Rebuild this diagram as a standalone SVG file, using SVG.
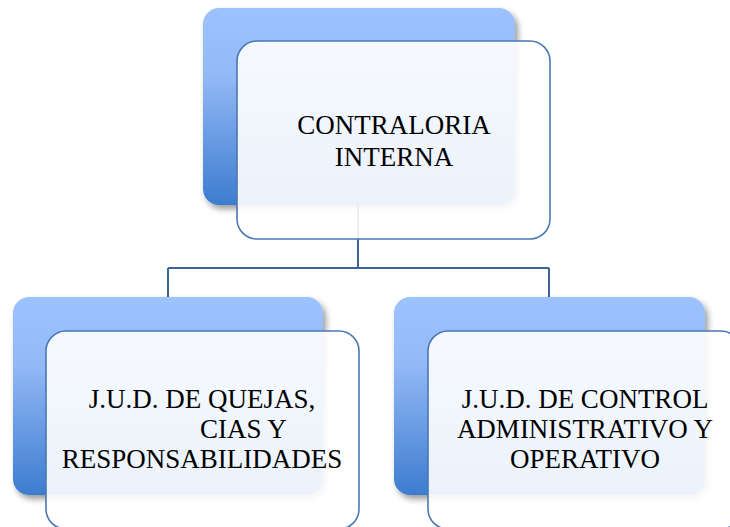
<svg xmlns="http://www.w3.org/2000/svg" width="730" height="527" viewBox="0 0 730 527">
<defs>
<linearGradient id="bg" x1="0" y1="0" x2="0" y2="1">
<stop offset="0" stop-color="#9dc3ff"/>
<stop offset="0.35" stop-color="#92b8f6"/>
<stop offset="1" stop-color="#3d7ccf"/>
</linearGradient>
<filter id="sh" x="-10%" y="-10%" width="130%" height="130%">
<feGaussianBlur in="SourceAlpha" stdDeviation="3"/>
<feOffset dx="3" dy="4"/>
<feComponentTransfer><feFuncA type="linear" slope="0.4"/></feComponentTransfer>
<feMerge><feMergeNode/><feMergeNode in="SourceGraphic"/></feMerge>
</filter>
</defs>
<style>
.back{fill:url(#bg);filter:url(#sh);}
.front{fill:#ffffff;fill-opacity:0.9;stroke:#4a78b4;stroke-width:1.6;}
.conn{fill:none;stroke:#3c6399;stroke-width:2;}
.t{font-family:"Liberation Serif","DejaVu Serif",serif;font-size:27px;fill:#000;}
</style>
<rect width="730" height="527" fill="#fff"/>
<g id="connectors">
<path class="conn" d="M358,200 V268 M168,268 H549 M168,268 V298 M549,268 V298"/>
</g>
<g id="node-top">
<rect class="back" x="203" y="8" width="312" height="197" rx="16"/>
<rect class="front" x="237" y="41" width="313" height="198" rx="20"/>
<text class="t" x="394" y="134" text-anchor="middle">CONTRALORIA</text>
<text class="t" x="394" y="166" text-anchor="middle">INTERNA</text>
</g>
<g id="node-left">
<rect class="back" x="13" y="297" width="310" height="198" rx="16"/>
<rect class="front" x="46" y="331" width="313" height="198" rx="20"/>
<text class="t" x="202" y="408" text-anchor="middle">J.U.D. DE QUEJAS,</text>
<text class="t" x="200" y="438">CIAS Y</text>
<text class="t" x="202" y="468" text-anchor="middle">RESPONSABILIDADES</text>
</g>
<g id="node-right">
<rect class="back" x="394" y="297" width="311" height="198" rx="16"/>
<rect class="front" x="428" y="331" width="313" height="198" rx="20"/>
<text class="t" x="585" y="408" text-anchor="middle">J.U.D. DE CONTROL</text>
<text class="t" x="585" y="438" text-anchor="middle">ADMINISTRATIVO Y</text>
<text class="t" x="585" y="468" text-anchor="middle">OPERATIVO</text>
</g>
</svg>
